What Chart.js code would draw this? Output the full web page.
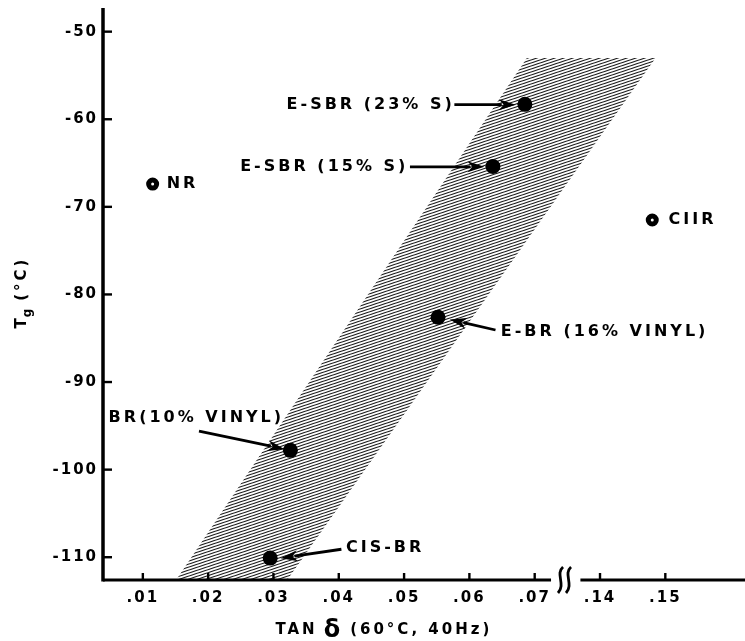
<!DOCTYPE html>
<html>
<head>
<meta charset="utf-8">
<script src="https://cdn.jsdelivr.net/npm/chart.js@4/dist/chart.umd.min.js"></script>
<style>
  html, body { margin: 0; padding: 0; background: #fff; }
  #wrap { width: 745px; height: 641px; position: relative; }
</style>
</head>
<body>
<div id="wrap"><canvas id="c" width="745" height="641"></canvas></div>
<script>
// Polymers: loss tangent at 60 °C / 40 Hz against glass transition temperature
const categories = ['NR', 'CIIR', 'E-SBR (23% S)', 'E-SBR (15% S)', 'E-BR (16% VINYL)', 'BR(10% VINYL)', 'CIS-BR'];
const tanDelta   = [0.0115, 0.148, 0.0685, 0.0636, 0.0552, 0.0326, 0.0295];
const tgValues   = [-67.4, -71.5, -58.3, -65.4, -82.6, -97.8, -110.1];
const openMarker = [true, true, false, false, false, false, false];

// Axis ticks
const xTickValues = [0.01, 0.02, 0.03, 0.04, 0.05, 0.06, 0.07, 0.14, 0.15];
const xTickLabels = ['.01', '.02', '.03', '.04', '.05', '.06', '.07', '.14', '.15'];
const yTickValues = [-110, -100, -90, -80, -70, -60, -50];

// Shaded correlation band, corners in axis units of the broken x scale
const bandX = [0.0151, 0.0321, 0.0885, 0.0688];
const bandY = [-112.6, -112.6, -53.0, -53.0];

// The x axis is broken between .07 and .14: values past the break move left by .06
const BREAK_SHIFT = 0.06;
const toAxis = v => (v > 0.1 ? v - BREAK_SHIFT : v);

const FONT = '"DejaVu Sans", "Liberation Sans", sans-serif';

// Label placement (axis units) for each material, with optional leader arrow
const notes = {
  'NR':               { at: [0.01365, -67.37], align: 'left' },
  'CIIR':             { at: [0.0905, -71.49], align: 'left' },
  'E-SBR (23% S)':    { at: [0.0573, -58.34], align: 'right', from: [0.0577, -58.34], to: [0.0671, -58.34] },
  'E-SBR (15% S)':    { at: [0.0502, -65.43], align: 'right', from: [0.0509, -65.43], to: [0.0623, -65.43] },
  'E-BR (16% VINYL)': { at: [0.0648, -84.29], align: 'left',  from: [0.0640, -84.06], to: [0.0570, -82.86] },
  'BR(10% VINYL)':    { at: [0.00476, -94.11], align: 'left', from: [0.0186, -95.6],  to: [0.0317, -97.66] },
  'CIS-BR':           { at: [0.0411, -108.97], align: 'left', from: [0.0404, -109.09], to: [0.0311, -110.11] }
};

function hatchPattern() {
  const W = 9, H = 3;
  const c = document.createElement('canvas');
  c.width = W; c.height = H;
  const g = c.getContext('2d');
  g.fillStyle = '#fff';
  g.fillRect(0, 0, W, H);
  g.strokeStyle = '#1a1a1a';
  g.lineWidth = 1.15;
  for (let o = -2 * H; o <= 3 * H; o += H) {
    g.beginPath();
    g.moveTo(-W, o + H * 1);
    g.lineTo(2 * W, o - H * 2);
    g.stroke();
  }
  return g.createPattern(c, 'repeat');
}

const filledPts = [], openPts = [];
categories.forEach((name, i) => {
  const p = { x: toAxis(tanDelta[i]), y: tgValues[i] };
  (openMarker[i] ? openPts : filledPts).push(p);
});
const bandPts = bandX.map((x, i) => ({ x, y: bandY[i] }));

function drawSpaced(ctx, text, x, y, align, spacing) {
  ctx.letterSpacing = spacing + 'px';
  const w = ctx.measureText(text).width - spacing;
  let left = x;
  if (align === 'right') left = x - w;
  else if (align === 'center') left = x - w / 2;
  ctx.textAlign = 'left';
  ctx.fillText(text, left, y);
  return left + w + spacing;
}

function arrow(ctx, x1, y1, x2, y2) {
  const ang = Math.atan2(y2 - y1, x2 - x1);
  const len = 17, hw = 5.5;
  const bx = x2 - len * Math.cos(ang), by = y2 - len * Math.sin(ang);
  ctx.beginPath();
  ctx.moveTo(x1, y1);
  ctx.lineTo(bx + 3 * Math.cos(ang), by + 3 * Math.sin(ang));
  ctx.lineWidth = 2.8;
  ctx.stroke();
  ctx.beginPath();
  ctx.moveTo(x2, y2);
  ctx.lineTo(bx + hw * Math.sin(ang), by - hw * Math.cos(ang));
  ctx.lineTo(bx + 5 * Math.cos(ang), by + 5 * Math.sin(ang));
  ctx.lineTo(bx - hw * Math.sin(ang), by + hw * Math.cos(ang));
  ctx.closePath();
  ctx.fill();
}

const decorations = {
  id: 'decorations',
  beforeDraw(chart) {
    chart.ctx.letterSpacing = '2px';
  },
  afterDatasetsDraw(chart) {
    const { ctx, chartArea: a, scales: { x, y } } = chart;
    ctx.save();
    ctx.strokeStyle = '#000';
    ctx.fillStyle = '#000';
    ctx.lineCap = 'butt';

    // axis lines, with a gap at the x-axis break
    const gapL = x.getPixelForValue(0.0725);
    const gapR = x.getPixelForValue(0.077);
    ctx.lineWidth = 3.5;
    ctx.beginPath();
    ctx.moveTo(a.left, a.top);
    ctx.lineTo(a.left, a.bottom + 1.5);
    ctx.stroke();
    ctx.lineWidth = 3;
    ctx.beginPath();
    ctx.moveTo(a.left, a.bottom);
    ctx.lineTo(gapL, a.bottom);
    ctx.moveTo(gapR, a.bottom);
    ctx.lineTo(a.right, a.bottom);
    ctx.stroke();

    // break marks
    ctx.lineWidth = 2.8;
    [gapL + 10, gapL + 18].forEach(bx => {
      ctx.beginPath();
      ctx.moveTo(bx + 2, a.bottom - 13);
      ctx.bezierCurveTo(bx - 6, a.bottom - 6, bx + 5, a.bottom + 4, bx - 3, a.bottom + 13);
      ctx.stroke();
    });

    // inward tick marks
    ctx.lineWidth = 2.4;
    x.ticks.forEach(t => {
      const px = x.getPixelForValue(t.value);
      ctx.beginPath();
      ctx.moveTo(px, a.bottom);
      ctx.lineTo(px, a.bottom - 7);
      ctx.stroke();
    });
    y.ticks.forEach(t => {
      const py = y.getPixelForValue(t.value);
      ctx.beginPath();
      ctx.moveTo(a.left, py);
      ctx.lineTo(a.left + 9, py);
      ctx.stroke();
    });

    // material labels and leader arrows
    ctx.font = 'bold 16px ' + FONT;
    ctx.textBaseline = 'middle';
    categories.forEach(name => {
      const n = notes[name];
      drawSpaced(ctx, name, x.getPixelForValue(n.at[0]), y.getPixelForValue(n.at[1]), n.align, 3);
      if (n.from) {
        arrow(ctx, x.getPixelForValue(n.from[0]), y.getPixelForValue(n.from[1]),
                   x.getPixelForValue(n.to[0]), y.getPixelForValue(n.to[1]));
      }
    });

    // x axis title
    ctx.textBaseline = 'alphabetic';
    let cx = x.getPixelForValue(0.0303);
    const base = 634;
    ctx.font = 'bold 15px ' + FONT;
    cx = drawSpaced(ctx, 'TAN', cx, base, 'left', 3) + 6;
    ctx.font = 'bold 24px ' + FONT;
    cx = drawSpaced(ctx, 'δ', cx, base + 3, 'left', 0) + 10;
    ctx.font = 'bold 15px ' + FONT;
    drawSpaced(ctx, '(60°C, 40Hz)', cx, base, 'left', 3);

    // y axis title
    ctx.save();
    ctx.translate(26, y.getPixelForValue(-83.9));
    ctx.rotate(-Math.PI / 2);
    ctx.textBaseline = 'alphabetic';
    ctx.font = 'bold 15px ' + FONT;
    let tx = drawSpaced(ctx, 'T', 0, 0, 'left', 1);
    ctx.font = 'bold 12px ' + FONT;
    tx = drawSpaced(ctx, 'g', tx, 5, 'left', 1) + 7;
    ctx.font = 'bold 15px ' + FONT;
    drawSpaced(ctx, '(°C)', tx, 0, 'left', 3);
    ctx.restore();

    ctx.restore();
  }
};

const tickFont = { family: FONT, size: 15, weight: 'bold' };

new Chart(document.getElementById('c'), {
  type: 'scatter',
  data: {
    datasets: [
      {
        label: 'filled',
        data: filledPts,
        pointRadius: 7.5,
        pointBackgroundColor: '#000',
        pointBorderWidth: 0,
        order: 0
      },
      {
        label: 'open',
        data: openPts,
        pointRadius: 4,
        pointBackgroundColor: '#fff',
        pointBorderColor: '#000',
        pointBorderWidth: 5,
        order: 0
      },
      {
        type: 'line',
        label: 'band',
        data: bandPts,
        showLine: true,
        fill: 'shape',
        backgroundColor: hatchPattern(),
        borderWidth: 0,
        borderColor: 'rgba(0,0,0,0)',
        pointRadius: 0,
        tension: 0,
        order: 1
      }
    ]
  },
  options: {
    responsive: false,
    animation: false,
    events: [],
    layout: { autoPadding: false, padding: { top: 8, right: 0, left: 0, bottom: 0 } },
    plugins: { legend: { display: false }, tooltip: { enabled: false } },
    scales: {
      x: {
        type: 'linear',
        min: 0.0039,
        max: 0.1022,
        afterFit: s => { s.height = 61; s.paddingLeft = 0; s.paddingRight = 0; },
        afterBuildTicks: s => { s.ticks = xTickValues.map(v => ({ value: toAxis(v) })); },
        grid: { display: false, drawTicks: false },
        border: { display: false },
        ticks: {
          autoSkip: false,
          maxRotation: 0,
          padding: 9,
          color: '#000',
          font: tickFont,
          callback: (v, i) => xTickLabels[i]
        }
      },
      y: {
        type: 'linear',
        min: -112.6,
        max: -47.3,
        afterFit: s => { s.width = 103; s.paddingTop = 0; s.paddingBottom = 0; },
        afterBuildTicks: s => { s.ticks = yTickValues.map(v => ({ value: v })); },
        grid: { display: false, drawTicks: false },
        border: { display: false },
        ticks: {
          padding: 5,
          color: '#000',
          font: tickFont,
          callback: v => String(v)
        }
      }
    }
  },
  plugins: [decorations]
});
</script>
</body>
</html>
